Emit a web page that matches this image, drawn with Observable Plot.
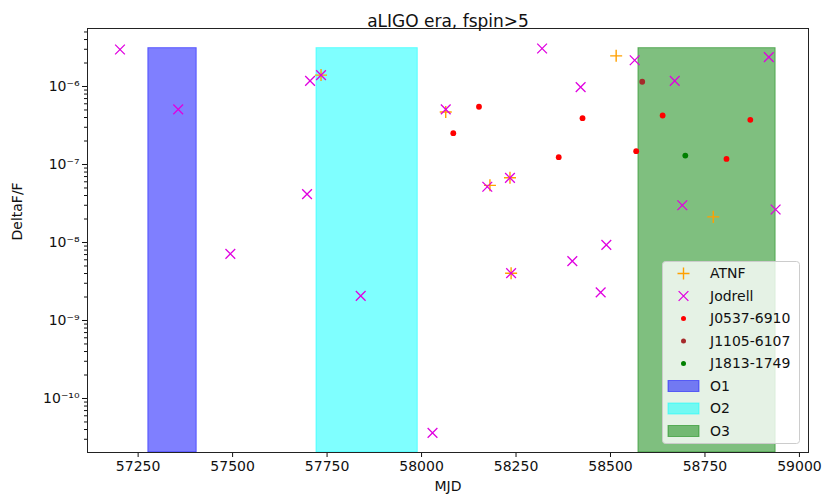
<!DOCTYPE html>
<html><head><meta charset="utf-8">
<script src="https://cdn.jsdelivr.net/npm/d3@7"></script>
<script src="https://cdn.jsdelivr.net/npm/@observablehq/plot@0.6"></script>
<style>
body{margin:0;background:#fff;font-family:"DejaVu Sans",sans-serif;}
#wrap{position:relative;width:825px;height:499px;}
#legend{position:absolute;left:662px;top:261px;}
</style></head><body><div id="wrap"></div>
<script>
// ---- data ----
const title = "aLIGO era, fspin>5";
const xLabel = "MJD";
const yLabel = "DeltaF/F";

const atnfMJD = [57734, 58064, 58181, 58234, 58237, 58515, 58772];
const atnfDF  = [1.40e-6, 4.7e-7, 5.4e-8, 6.75e-8, 4.04e-9, 2.47e-6, 2.13e-8];

const jodrellMJD = [57202, 57356, 57494, 57697, 57705, 57734, 57839, 58029, 58064, 58174, 58234, 58237, 58319, 58399, 58421, 58474, 58489, 58564, 58670, 58690, 58919, 58937];
const jodrellDF  = [2.98e-6, 5.1e-7, 7.16e-9, 4.16e-8, 1.18e-6, 1.40e-6, 2.07e-9, 3.63e-11, 5.1e-7, 5.18e-8, 6.75e-8, 4.04e-9, 3.07e-6, 5.77e-9, 9.8e-7, 2.29e-9, 9.3e-9, 2.17e-6, 1.18e-6, 3.0e-8, 2.38e-6, 2.65e-8];

const j0537MJD = [58084, 58152, 58363, 58426, 58568, 58638, 58807, 58870];
const j0537DF  = [2.52e-7, 5.5e-7, 1.24e-7, 3.93e-7, 1.48e-7, 4.25e-7, 1.18e-7, 3.74e-7];

const j1105MJD = [58584];
const j1105DF  = [1.15e-6];

const j1813MJD = [58698];
const j1813DF  = [1.30e-7];

const runNames = ["O1", "O2", "O3"];
const runStart = [57277, 57722, 58574];
const runEnd   = [57405, 57990, 58937];
const runTop   = [3.1e-6, 3.1e-6, 3.1e-6];
const runColors = ["blue", "cyan", "green"];

const xTicks = [57250, 57500, 57750, 58000, 58250, 58500, 58750, 59000];
const yTicks = [1e-10, 1e-9, 1e-8, 1e-7, 1e-6];
const xDomain = [57116, 59024];
const yDomain = [2.03e-11, 5.54e-6];

// ---- helpers ----
const pts = (xs, ys) => xs.map((x, i) => ({mjd: x, df: ys[i]}));
const atnf = pts(atnfMJD, atnfDF);
const jodrell = pts(jodrellMJD, jodrellDF);
const j0537 = pts(j0537MJD, j0537DF);
const j1105 = pts(j1105MJD, j1105DF);
const j1813 = pts(j1813MJD, j1813DF);
const runs = runNames.map((n, i) => ({name: n, start: runStart[i], end: runEnd[i], top: runTop[i], color: runColors[i]}));

const sup = {"-": "\u207B", "0": "\u2070", "1": "\u00B9", "2": "\u00B2", "3": "\u00B3", "4": "\u2074", "5": "\u2075", "6": "\u2076", "7": "\u2077", "8": "\u2078", "9": "\u2079"};
const pow10 = d => "10" + String(Math.round(Math.log10(d))).split("").map(c => sup[c]).join("");

const minorY = [];
for (let e = -12; e <= -5; e++) for (let m = 2; m <= 9; m++) {
  const v = m * Math.pow(10, e);
  if (v >= yDomain[0] && v <= yDomain[1]) minorY.push(v);
}

const jodColor = "#e000e0";
const atnfColor = "#ffa000";
const FONT = "DejaVu Sans";

const chart = Plot.plot({
  width: 825, height: 499,
  marginLeft: 87, marginRight: 17, marginTop: 28, marginBottom: 47,
  style: {fontFamily: FONT, fontSize: "14px", color: "#111", background: "#fff"},
  x: {domain: xDomain},
  y: {type: "log", domain: yDomain},
  marks: [
    Plot.axisX({ticks: xTicks, tickFormat: d => String(d), tickSize: 5, tickPadding: 4, label: null, fontSize: 14}),
    Plot.axisY({ticks: yTicks, tickFormat: pow10, tickSize: 5, tickPadding: 3, label: null, fontSize: 14}),
    Plot.axisY(minorY, {tickSize: 3, tickFormat: () => "", label: null}),
    Plot.rect(runs, {x1: "start", x2: "end", y1: () => yDomain[0], y2: "top", fill: "color", fillOpacity: 0.5, stroke: "color", strokeOpacity: 0.5, strokeWidth: 1}),
    Plot.dot(atnf, {x: "mjd", y: "df", symbol: "plus", stroke: atnfColor, r: 3.95, strokeWidth: 1.4}),
    Plot.dot(jodrell, {x: "mjd", y: "df", symbol: "times", stroke: jodColor, r: 4.5, strokeWidth: 1.3}),
    Plot.dot(j0537, {x: "mjd", y: "df", fill: "red", r: 2.9}),
    Plot.dot(j1105, {x: "mjd", y: "df", fill: "brown", r: 2.9}),
    Plot.dot(j1813, {x: "mjd", y: "df", fill: "green", r: 2.9}),
    Plot.frame({stroke: "#222", strokeWidth: 1}),
    Plot.text([title], {frameAnchor: "top", dy: -14, fontSize: 17, fill: "#111"}),
    Plot.text([xLabel], {frameAnchor: "bottom", dy: 38, fontSize: 14, fill: "#111"}),
    Plot.text([yLabel], {frameAnchor: "left", dx: -70, rotate: -90, fontSize: 14, fill: "#111"})
  ]
});
const wrap = document.getElementById("wrap");
wrap.appendChild(chart);

// ---- legend ----
const legendItems = [
  {label: "ATNF", kind: "plus", color: atnfColor},
  {label: "Jodrell", kind: "times", color: jodColor},
  {label: "J0537-6910", kind: "dot", color: "red"},
  {label: "J1105-6107", kind: "dot", color: "brown"},
  {label: "J1813-1749", kind: "dot", color: "green"},
  ...runs.map(r => ({label: r.name, kind: "patch", color: r.color}))
];
const lw = 138, lh = 183;
const leg = d3.create("svg").attr("id", "legend").attr("width", lw).attr("height", lh)
  .style("font-family", FONT).style("font-size", "14px");
leg.append("rect").attr("x", 0.5).attr("y", 0.5).attr("width", lw - 1).attr("height", lh - 1)
  .attr("rx", 3).attr("fill", "white").attr("fill-opacity", 0.8).attr("stroke", "#cccccc");
legendItems.forEach((it, i) => {
  const cy = 12.5 + i * 22.5, cx = 21.5;
  const g = leg.append("g");
  if (it.kind === "plus") {
    g.append("path").attr("d", d3.symbol(d3.symbolPlus, 49)()).attr("transform", `translate(${cx},${cy})`)
      .attr("fill", "none").attr("stroke", it.color).attr("stroke-width", 1.4);
  } else if (it.kind === "times") {
    g.append("path").attr("d", d3.symbol(d3.symbolTimes, 4.5 * 4.5 * Math.PI)()).attr("transform", `translate(${cx},${cy})`)
      .attr("fill", "none").attr("stroke", it.color).attr("stroke-width", 1.3);
  } else if (it.kind === "dot") {
    g.append("circle").attr("cx", cx).attr("cy", cy).attr("r", 2.5).attr("fill", it.color);
  } else {
    g.append("rect").attr("x", 6).attr("y", cy - 5.5).attr("width", 31).attr("height", 11)
      .attr("fill", it.color).attr("fill-opacity", 0.5).attr("stroke", it.color).attr("stroke-opacity", 0.5);
  }
  g.append("text").attr("x", 48).attr("y", cy).attr("dy", "0.35em").attr("fill", "#111").text(it.label);
});
wrap.appendChild(leg.node());
</script>
</body></html>
